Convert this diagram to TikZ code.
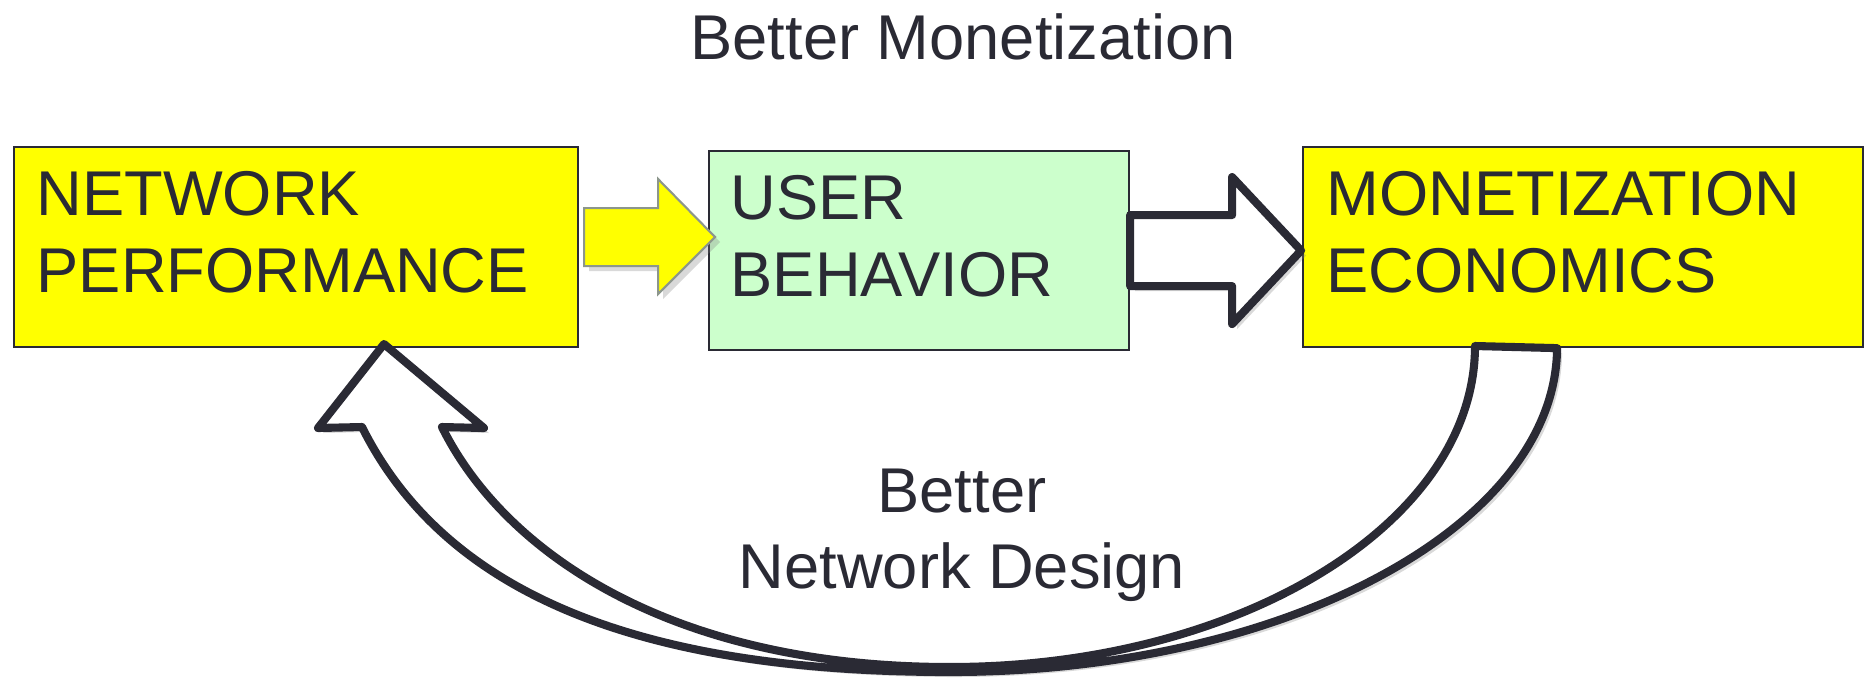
\documentclass[tikz,border=0pt]{standalone}
\usepackage{fontspec}
\setmainfont{Liberation Sans}
\usetikzlibrary{calc}
\usetikzlibrary{shadows}

\definecolor{inkdark}{RGB}{42,42,52}
\definecolor{boxyellow}{RGB}{255,255,0}
\definecolor{boxgreen}{RGB}{204,255,204}
\definecolor{arrowgrey}{RGB}{140,150,140}

\begin{document}
\begin{tikzpicture}[
		ybox/.style={draw=inkdark, line width=0.6pt, fill=boxyellow, rectangle, inner sep=0pt, anchor=north west},
		gbox/.style={ybox, fill=boxgreen},
		boxtext/.style={align=left, anchor=north west, inner sep=0pt, text=inkdark, font=\fontsize{18pt}{21.9pt}\selectfont},
		looptext/.style={align=center, anchor=north, inner sep=0pt, text=inkdark, font=\fontsize{18pt}{21.6pt}\selectfont},
		fillarrow/.style={draw=arrowgrey, line width=0.6pt, fill=boxyellow, drop shadow={shadow xshift=0.5mm, shadow yshift=-0.5mm, opacity=0.3}},
		hollowarrow/.style={draw=inkdark, line width=2.3pt, fill=white, line join=round, drop shadow={shadow xshift=0.5mm, shadow yshift=-0.5mm, opacity=0.3}}
	]

		\useasboundingbox (0,0) rectangle (18.64,-6.77);

		% title
		\node[looptext] (toptitle) at (9.63,-0.13) {Better Monetization};

		% boxes
		\node[ybox, minimum width=5.64cm, minimum height=2.00cm] (net) at (0.13,-1.46) {};
		\node[gbox, minimum width=4.20cm, minimum height=1.99cm] (user) at (7.08,-1.50) {};
		\node[ybox, minimum width=5.60cm, minimum height=2.00cm] (mon) at (13.02,-1.46) {};

		% yellow arrow
		\draw[fillarrow] ([xshift=0.05cm,yshift=0.39cm]net.east) -- ++(0.74,0) -- ++(0,0.29) -- ++(0.57,-0.58)
			-- ++(-0.57,-0.57) -- ++(0,0.28) -- ++(-0.74,0) -- cycle;

		% outlined arrow
		\draw[hollowarrow] ([yshift=0.355cm]user.east) -- ++(1.02,0) -- ++(0,0.38) -- ++(0.69,-0.735)
			-- ++(-0.69,-0.735) -- ++(0,0.38) -- ++(-1.02,0) -- cycle;

		% feedback loop
		\draw[hollowarrow] ([xshift=-0.26cm]mon.south) .. controls (15.56,-5.26) and (12.85,-6.72) .. (9.50,-6.72)
			.. controls (6.30,-6.72) and (4.43,-5.89) .. (3.62,-4.27)
			-- (3.18,-4.28) -- (3.84,-3.44) -- (4.84,-4.28) -- (4.42,-4.27)
			.. controls (5.04,-5.52) and (6.70,-6.67) .. (9.50,-6.67)
			.. controls (12.40,-6.67) and (14.75,-5.23) .. (14.75,-3.46) -- cycle;

		% box texts
		\node[boxtext] (netlbl) at (0.36,-1.71) {NETWORK\\PERFORMANCE};
		\node[boxtext] (userlbl) at (7.30,-1.75) {USER\\BEHAVIOR};
		\node[boxtext] (monlbl) at (13.26,-1.71) {MONETIZATION\\ECONOMICS};

		% loop label
		\node[looptext] (looplbl) at (9.62,-4.68) {Better\\Network Design};

	\end{tikzpicture}
\end{document}
